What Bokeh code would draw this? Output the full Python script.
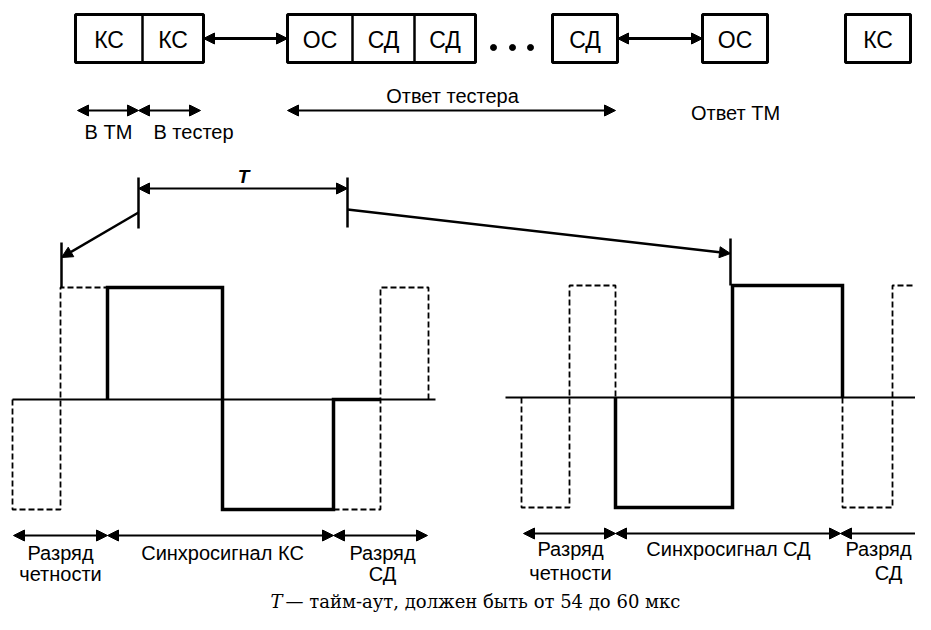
from bokeh.plotting import figure
from bokeh.models import Range1d, Arrow, NormalHead
from bokeh.core.properties import value
from bokeh.embed import file_html
from bokeh.resources import INLINE

SANS = "Liberation Sans"
SERIF = "DejaVu Serif"

# ---- top row of frames (pixel-space diagram coordinates) ----
frame_left = [75, 287, 552, 702, 845]
frame_right = [203, 475, 617, 767, 910]
frame_top = 14
frame_bottom = 62
divider_x = [142, 352, 414]
box_labels = ["КС", "КС", "ОС", "СД", "СД", "СД", "ОС", "КС"]
box_label_x = [108.5, 172.5, 319.5, 383, 444.5, 584.5, 734.5, 877.5]
box_label_y = 39
dots_x = [493, 512, 530]
dots_y = 47
link_arrows = [(203, 287, 38), (617, 702, 38)]

# ---- direction arrows and labels under the frames ----
dir_arrows = [(77, 138, 110), (138, 200, 110), (287, 615, 110)]
dir_labels = ["В ТМ", "В тестер", "Ответ тестера", "Ответ ТМ"]
dir_label_x = [108, 193, 452, 735]
dir_label_y = [131, 131, 95, 112]

# ---- timeout T bracket ----
t_left, t_right, t_y = 138, 347, 188
t_tick_top, t_tick_bottom = 177, 228
t_label = "T"
pointer_from = [(138, 212), (347, 209)]
pointer_to = [(61, 257), (730, 253)]
marker_x = [61, 730]
marker_top = [242, 238]
marker_bottom = [287, 285]

# ---- waveform levels ----
left_base, left_high, left_low = 399, 287, 509
right_base, right_high, right_low = 397, 285, 507
left_base_span = (12, 435)
right_base_span = (505, 931)

left_dash_1_x = [12, 12, 60, 60, 107]
left_dash_1_y = [left_base, left_low, left_low, left_high, left_high]
left_solid_x = [107, 107, 222, 222, 333, 333, 380]
left_solid_y = [left_base, left_high, left_high, left_low, left_low, left_base, left_base]
left_dash_2_x = [333, 380, 380, 428, 428]
left_dash_2_y = [left_low, left_low, left_high, left_high, left_base]

right_dash_1_x = [521, 521, 569, 569, 615, 615]
right_dash_1_y = [right_base, right_low, right_low, right_high, right_high, right_base]
right_solid_x = [615, 615, 732, 732, 842, 842]
right_solid_y = [right_base, right_low, right_low, right_high, right_high, right_base]
right_dash_2_x = [842, 842, 892, 892, 931]
right_dash_2_y = [right_base, right_low, right_low, right_high, right_high]

# ---- bit field arrows and labels ----
field_arrows = [(13, 107, 535), (107, 333, 535), (333, 427, 535),
                (523, 615, 533), (615, 840, 533), (840, 931, 533)]
field_labels = ["Разряд", "четности", "Синхросигнал КС", "Разряд", "СД",
                "Разряд", "четности", "Синхросигнал СД", "Разряд", "СД"]
field_label_x = [60, 60, 222, 382, 382, 570, 570, 728, 878, 888]
field_label_y = [552, 573, 552, 552, 573, 548, 572, 548, 548, 572]

footer_T = "T"
footer_text = " — тайм-аут, должен быть от 54 до 60 мкс"
footer_T_x, footer_text_x, footer_y = 270, 285, 601

p = figure(width=915, height=614, output_backend="svg", toolbar_location=None,
           x_range=Range1d(0, 915), y_range=Range1d(614, 0), tools="",
           min_border=0)
p.axis.visible = False
p.grid.visible = False
p.outline_line_color = None
p.background_fill_color = "white"
p.border_fill_color = "white"

INK = "#000000"

# frames
p.quad(left=frame_left, right=frame_right, top=[frame_top] * len(frame_left),
       bottom=[frame_bottom] * len(frame_left), fill_color=None,
       line_color=INK, line_width=3)
p.segment(x0=divider_x, y0=[frame_top] * 3, x1=divider_x, y1=[frame_bottom] * 3,
          line_color=INK, line_width=2.5)
p.text(x=box_label_x, y=[box_label_y] * len(box_labels), text=box_labels,
       text_font=value(SANS), text_font_size="23px", text_align="center",
       text_baseline="middle", text_color=INK)
p.scatter(x=dots_x, y=[dots_y] * 3, size=6, color=INK)


def head():
    return NormalHead(size=11, fill_color=INK, line_color=INK, line_width=1)


for x0, x1, y in link_arrows:
    p.add_layout(Arrow(start=head(), end=head(), x_start=x0, y_start=y,
                       x_end=x1, y_end=y, line_width=3, line_color=INK))

for x0, x1, y in dir_arrows:
    p.add_layout(Arrow(start=head(), end=head(), x_start=x0, y_start=y,
                       x_end=x1, y_end=y, line_width=2, line_color=INK))

p.text(x=dir_label_x, y=dir_label_y, text=dir_labels, text_font=value(SANS),
       text_font_size="20px", text_align="center", text_baseline="middle",
       text_color=INK)

# T bracket
p.segment(x0=[t_left, t_right], y0=[t_tick_top] * 2, x1=[t_left, t_right],
          y1=[t_tick_bottom, t_tick_bottom - 1], line_color=INK, line_width=2.5)
p.add_layout(Arrow(start=head(), end=head(), x_start=t_left, y_start=t_y,
                   x_end=t_right, y_end=t_y, line_width=2, line_color=INK))
p.text(x=[243], y=[176], text=[t_label], text_font=value(SANS),
       text_font_size="19px", text_font_style="bold italic", text_align="center",
       text_baseline="middle", text_color=INK)
for (xa, ya), (xb, yb) in zip(pointer_from, pointer_to):
    p.add_layout(Arrow(end=head(), x_start=xa, y_start=ya, x_end=xb, y_end=yb,
                       line_width=2.5, line_color=INK))
p.segment(x0=marker_x, y0=marker_top, x1=marker_x, y1=marker_bottom,
          line_color=INK, line_width=2.5)

# baselines
p.line(x=list(left_base_span), y=[left_base] * 2, line_color=INK, line_width=2)
p.line(x=list(right_base_span), y=[right_base] * 2, line_color=INK, line_width=2)

# waveforms
for xs, ys in [(left_dash_1_x, left_dash_1_y), (left_dash_2_x, left_dash_2_y),
               (right_dash_1_x, right_dash_1_y), (right_dash_2_x, right_dash_2_y)]:
    p.line(x=xs, y=ys, line_color=INK, line_width=1.8, line_dash="6 3")
for xs, ys in [(left_solid_x, left_solid_y), (right_solid_x, right_solid_y)]:
    p.line(x=xs, y=ys, line_color=INK, line_width=3.5, line_join="miter")

# field arrows
for x0, x1, y in field_arrows:
    p.add_layout(Arrow(start=head(), end=head(), x_start=x0, y_start=y,
                       x_end=x1, y_end=y, line_width=2, line_color=INK))
p.text(x=field_label_x, y=field_label_y, text=field_labels, text_font=value(SANS),
       text_font_size="20px", text_align="center", text_baseline="middle",
       text_color=INK)

# footer
p.text(x=[footer_T_x], y=[footer_y], text=[footer_T], text_font=value(SERIF),
       text_font_size="18px", text_font_style="italic", text_align="left",
       text_baseline="middle", text_color=INK)
p.text(x=[footer_text_x], y=[footer_y], text=[footer_text], text_font=value(SERIF),
       text_font_size="18px", text_align="left", text_baseline="middle",
       text_color=INK)

open("out.html", "w").write(file_html(p, INLINE))
